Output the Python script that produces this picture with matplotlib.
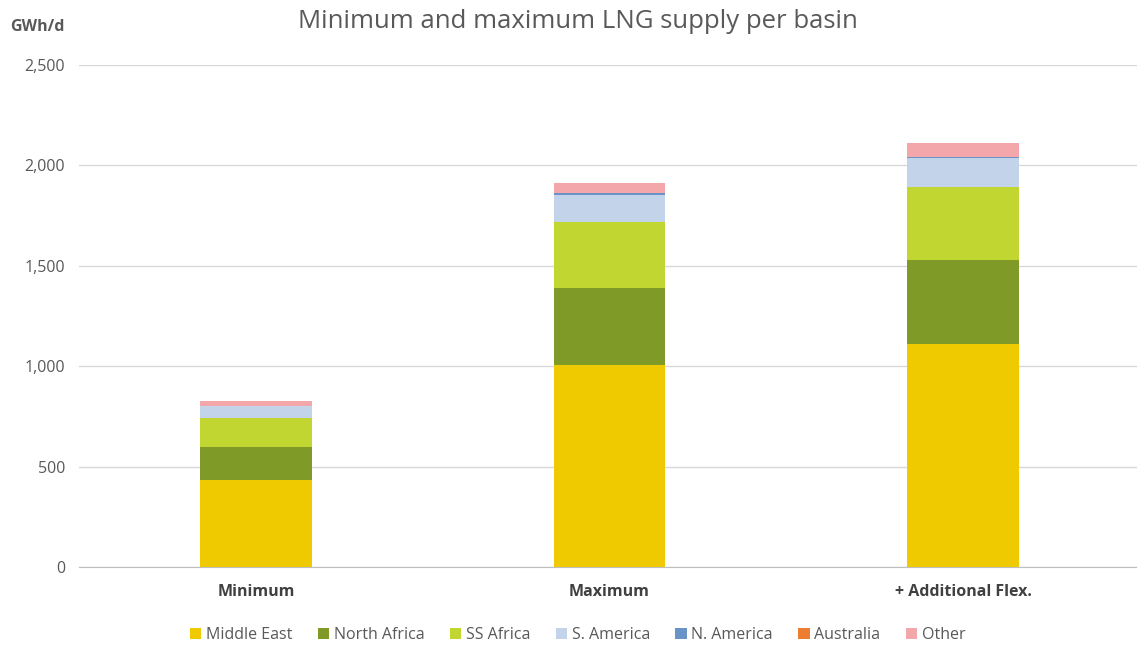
import matplotlib
matplotlib.use("Agg")
import matplotlib.pyplot as plt
import numpy as np

categories = ["Minimum", "Maximum", "+ Additional Flex."]
series_names = ["Middle East", "North Africa", "SS Africa", "S. America", "N. America", "Australia", "Other"]
middle_east = [433, 1005, 1111]
north_africa = [165, 384, 418]
ss_africa = [144, 331, 362]
s_america = [58, 134, 145]
n_america = [4, 7, 6]
australia = [0, 0, 0]
other = [21, 50, 68]
yticks = [0, 500, 1000, 1500, 2000, 2500]
ytick_labels = ["0", "500", "1,000", "1,500", "2,000", "2,500"]

colors = ["#F0CA00", "#7F9A27", "#C2D632", "#C3D4EA", "#6A93C8", "#ED7D31", "#F4A7AB"]
series = [middle_east, north_africa, ss_africa, s_america, n_america, australia, other]

plt.rcParams['font.family'] = ['Open Sans', 'DejaVu Sans']
fig = plt.figure(figsize=(11.37, 6.46), dpi=100)
ax = fig.add_axes([79/1137, 1 - 567/646, (1140 - 79)/1137, (567 - 65)/646])

x = np.arange(len(categories))
bottom = np.zeros(len(categories))
handles = []
for name, vals, c in zip(series_names, series, colors):
    b = ax.bar(x, vals, width=0.315, bottom=bottom, color=c, label=name, zorder=3)
    handles.append(b)
    bottom += np.array(vals)

ax.set_xlim(-0.5, len(categories) - 0.5)
ax.set_ylim(0, 2500)
ax.set_yticks(yticks)
ax.set_yticklabels(ytick_labels, color="#595959", fontsize=11.5)
ax.set_xticks(x)
ax.set_xticklabels(categories, color="#404040", fontsize=11.5, fontweight="bold")
ax.tick_params(axis="both", length=0, pad=10)
ax.tick_params(axis="x", pad=12)
ax.grid(axis="y", color="#D9D9D9", linewidth=1, zorder=0)
for s in ["top", "right", "left"]:
    ax.spines[s].set_visible(False)
ax.spines["bottom"].set_color("#BFBFBF")
ax.spines["bottom"].set_zorder(4)

fig.text(0.508, 1 - 21/646, "Minimum and maximum LNG supply per basin", ha="center", va="center",
         fontsize=18.5, color="#595959")
fig.text(10/1137, 1 - 27/646, "GWh/d", ha="left", va="center", fontsize=11.5,
         fontweight="bold", color="#595959")

leg = fig.legend(handles=handles, labels=series_names, loc="center", ncol=7,
                 bbox_to_anchor=(0.508, 1 - 635/646), frameon=False, fontsize=11.5,
                 handlelength=0.7, handleheight=0.7, handletextpad=0.3, columnspacing=1.6)
for t in leg.get_texts():
    t.set_color("#595959")

fig.savefig("out.png", dpi=100)
